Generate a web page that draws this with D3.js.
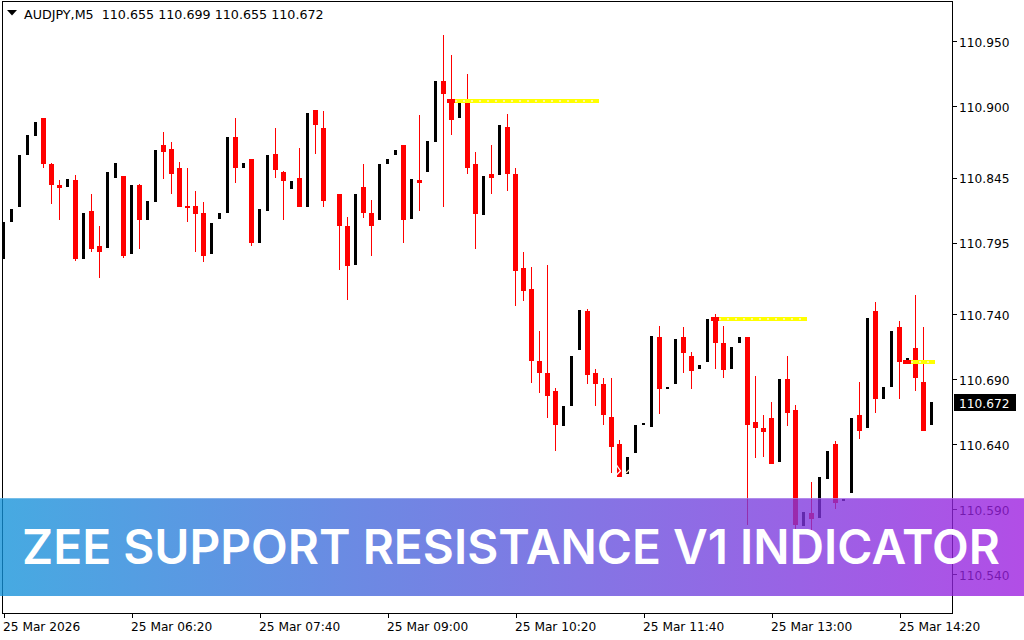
<!DOCTYPE html>
<meta charset="utf-8">
<style>
    html, body { margin: 0; padding: 0; background: #fff; overflow: hidden; }
    svg { display: block; }
    text { font-family: "DejaVu Sans", sans-serif; font-size: 12.2px; fill: #000; }
    .axis path { display: none; }
    .axis line { stroke: #000; shape-rendering: crispEdges; }
    .frame { fill: none; stroke: #000; shape-rendering: crispEdges; }
    .wide { font-size: 12.7px; }
    .banner-title { font-family: Inter, sans-serif; font-size: 48px; font-weight: 600; fill: #fff; }
</style>
<svg width="1024" height="640"></svg>
<script src="https://d3js.org/d3.v7.min.js"></script>
<script>
    var priceTicks = [110.950, 110.900, 110.845, 110.795, 110.740, 110.690, 110.640, 110.590, 110.540];
    var timeTicks = [0, 16, 32, 48, 64, 80, 96, 112];
    var timeLabels = ["25 Mar 2026", "25 Mar 06:20", "25 Mar 07:40", "25 Mar 09:00", "25 Mar 10:20", "25 Mar 11:40", "25 Mar 13:00", "25 Mar 14:20"];

    // one value per 5 minute bar, null where no bar shows
    var open = [110.782, 110.811, 110.822, 110.862, 110.877, 110.891, 110.855, 110.839, 110.838, 110.843,
        110.782, 110.819, 110.792, 110.791, 110.845, 110.846, 110.786, 110.839, 110.812, 110.826,
        110.870, 110.867, 110.852, 110.823, 110.823, 110.818, 110.786, 110.813, 110.818, 110.876,
        110.852, 110.859, 110.795, 110.819, 110.863, 110.849, 110.836, 110.845, 110.822, 110.897,
        110.883, null, 110.832, 110.808, 110.778, 110.838, 110.818, 110.812, 110.855, 110.862,
        110.870, 110.813, 110.843, 110.849, 110.872, 110.919, 110.905, 110.891, 110.905, 110.855,
        110.816, 110.848, 110.847, 110.884, 110.848, 110.775, 110.759, 110.704, 110.695, 110.681,
        110.654, 110.669, 110.712, 110.742, 110.695, 110.686, 110.661, 110.640, 110.617, 110.633,
        110.655, 110.653, 110.722, 110.682, 110.686, 110.722, 110.708, 110.698, 110.703, 110.738,
        110.718, 110.698, 110.718, 110.722, 110.657, 110.652, 110.660, 110.626, 110.690, 110.666,
        110.577, 110.587, 110.583, 110.613, 110.640, 110.596, 110.602, 110.662, 110.652, 110.742,
        110.675, 110.684, 110.730, 110.702, 110.714, 110.688, 110.655];
    var high = [110.811, 110.821, 110.862, 110.878, 110.888, 110.891, 110.856, 110.843, 110.844, 110.847,
        110.818, 110.832, 110.808, 110.849, 110.856, 110.846, 110.839, 110.840, 110.827, 110.866,
        110.880, 110.872, 110.857, 110.852, 110.835, 110.826, 110.810, 110.818, 110.876, 110.891,
        110.856, 110.859, 110.821, 110.862, 110.883, 110.850, 110.842, 110.868, 110.895, 110.897,
        110.896, null, 110.832, 110.815, 110.832, 110.855, 110.828, 110.855, 110.859, 110.866,
        110.870, 110.844, 110.893, 110.873, 110.919, 110.955, 110.939, 110.905, 110.925, 110.865,
        110.846, 110.870, 110.885, 110.894, 110.852, 110.788, 110.776, 110.727, 110.778, 110.683,
        110.669, 110.708, 110.743, 110.744, 110.698, 110.691, 110.691, 110.643, 110.630, 110.655,
        110.656, 110.723, 110.731, 110.684, 110.721, 110.730, 110.711, 110.701, 110.736, 110.740,
        110.731, 110.715, 110.722, 110.722, 110.692, 110.662, 110.672, 110.690, 110.708, 110.670,
        110.588, 110.611, 110.615, 110.635, 110.642, 110.598, 110.660, 110.688, 110.737, 110.749,
        110.684, 110.727, 110.735, 110.706, 110.755, 110.730, 110.672];
    var low = [110.782, 110.811, 110.822, 110.862, 110.877, 110.852, 110.825, 110.812, 110.838, 110.781,
        110.782, 110.788, 110.768, 110.791, 110.845, 110.783, 110.786, 110.790, 110.812, 110.826,
        110.844, 110.832, 110.822, 110.811, 110.788, 110.780, 110.786, 110.813, 110.818, 110.841,
        110.852, 110.792, 110.795, 110.819, 110.845, 110.812, 110.836, 110.822, 110.822, 110.863,
        110.822, null, 110.774, 110.751, 110.778, 110.814, 110.785, 110.812, 110.855, 110.862,
        110.795, 110.813, 110.819, 110.849, 110.872, 110.822, 110.878, 110.891, 110.848, 110.790,
        110.816, 110.832, 110.847, 110.835, 110.746, 110.750, 110.687, 110.679, 110.660, 110.635,
        110.654, 110.669, 110.712, 110.686, 110.669, 110.655, 110.618, 110.615, 110.617, 110.633,
        110.655, 110.653, 110.663, 110.682, 110.686, 110.695, 110.682, 110.698, 110.703, 110.698,
        110.691, 110.698, 110.718, 110.578, 110.629, 110.630, 110.625, 110.626, 110.654, 110.574,
        110.577, 110.574, 110.583, 110.613, 110.590, 110.596, 110.602, 110.644, 110.652, 110.664,
        110.675, 110.684, 110.675, 110.702, 110.681, 110.650, 110.655];
    var close = [110.811, 110.821, 110.862, 110.878, 110.888, 110.855, 110.839, 110.837, 110.844, 110.782,
        110.818, 110.790, 110.788, 110.849, 110.856, 110.785, 110.839, 110.812, 110.827, 110.866,
        110.865, 110.848, 110.822, 110.822, 110.817, 110.785, 110.810, 110.818, 110.876, 110.852,
        110.856, 110.795, 110.821, 110.862, 110.851, 110.842, 110.842, 110.822, 110.895, 110.885,
        110.827, null, 110.808, 110.777, 110.832, 110.818, 110.808, 110.855, 110.859, 110.866,
        110.812, 110.844, 110.841, 110.873, 110.919, 110.909, 110.889, 110.905, 110.852, 110.817,
        110.846, 110.845, 110.885, 110.848, 110.773, 110.758, 110.704, 110.695, 110.677, 110.655,
        110.669, 110.708, 110.743, 110.693, 110.686, 110.662, 110.638, 110.615, 110.630, 110.655,
        110.656, 110.723, 110.682, 110.684, 110.721, 110.710, 110.696, 110.701, 110.736, 110.718,
        110.697, 110.715, 110.722, 110.655, 110.652, 110.649, 110.625, 110.690, 110.664, 110.578,
        110.588, 110.582, 110.615, 110.635, 110.595, 110.598, 110.660, 110.650, 110.737, 110.675,
        110.684, 110.727, 110.703, 110.706, 110.691, 110.650, 110.672];

    // support / resistance levels drawn by the indicator
    var levelPrice = [110.904, 110.736, 110.703];
    var levelStart = [56, 89, 113];
    var levelEnd = [74, 100, 116];

    var svg = d3.select("svg");

    var x = d3.scaleLinear().domain([0, 116]).range([3.5, 931.5]);
    var y = d3.scaleLinear().domain([110.95, 110.54]).range([41, 574]);
    function py(v) { return Math.round(y(v)); }

    var bars = d3.range(open.length).filter(function (i) { return open[i] !== null; });

    var chart = svg.append("g");

    chart.selectAll(".wick")
        .data(bars)
        .enter().append("rect")
        .attr("class", "wick")
        .attr("x", function (i) { return x(i) - 0.5; })
        .attr("y", function (i) { return py(high[i]); })
        .attr("width", 1)
        .attr("height", function (i) { return py(low[i]) - py(high[i]); })
        .attr("fill", function (i) { return close[i] > open[i] ? "#000" : "#f00"; })
        .attr("shape-rendering", "crispEdges");

    chart.selectAll(".body")
        .data(bars)
        .enter().append("rect")
        .attr("class", "body")
        .attr("x", function (i) { return x(i) - (close[i] > open[i] ? 1.5 : 2.5); })
        .attr("y", function (i) { return py(Math.max(open[i], close[i])); })
        .attr("width", function (i) { return close[i] > open[i] ? 3 : 5; })
        .attr("height", function (i) { return Math.max(2, py(Math.min(open[i], close[i])) - py(Math.max(open[i], close[i]))); })
        .attr("fill", function (i) { return close[i] > open[i] ? "#000" : "#f00"; })
        .attr("shape-rendering", "crispEdges");

    // small white smudges sitting on the two bars at the low
    var smudgeX = x(77), smudgeY = py(close[77]);
    chart.append("path")
        .attr("d", "M" + (smudgeX - 3) + "," + (smudgeY - 12) + "l4,6l-4,4")
        .attr("fill", "none").attr("stroke", "#fff").attr("stroke-width", 1.3);
    chart.append("path")
        .attr("d", "M" + (x(78) - 1.5) + "," + (py(open[78]) - 1) + "l3,-3")
        .attr("fill", "none").attr("stroke", "#ffe9c0").attr("stroke-width", 1.2);

    // levels: yellow band with pale dots, red at the bar that started it
    levelPrice.forEach(function (p, k) {
        var x0 = x(levelStart[k]) - 4.5,
            x1 = x(levelEnd[k]) + 3,
            yy = py(p);
        chart.append("rect")
            .attr("x", x0).attr("y", yy - 2)
            .attr("width", x1 - x0).attr("height", 4)
            .attr("fill", "#ff0")
            .attr("shape-rendering", "crispEdges");
        chart.append("line")
            .attr("x1", x0).attr("x2", x1)
            .attr("y1", yy).attr("y2", yy)
            .attr("stroke", "#fff7a0").attr("stroke-width", 2)
            .attr("stroke-dasharray", "2 6");
        chart.append("rect")
            .attr("x", x0).attr("y", yy - 2)
            .attr("width", 8).attr("height", 4)
            .attr("fill", "#f00")
            .attr("shape-rendering", "crispEdges");
    });

    // frame and axes
    svg.append("rect").attr("class", "frame")
        .attr("x", 2.5).attr("y", 1.5)
        .attr("width", 950).attr("height", 612);

    var priceAxis = svg.append("g")
        .attr("class", "axis")
        .attr("transform", "translate(952.5,0)")
        .call(d3.axisRight(y).tickValues(priceTicks).tickSize(4).tickFormat(d3.format(".3f")));
    priceAxis.selectAll("text").attr("x", 6.5).attr("dy", "0.44em");

    var timeAxis = svg.append("g")
        .attr("class", "axis")
        .attr("transform", "translate(0,613.5)")
        .call(d3.axisBottom(x).tickValues(timeTicks).tickSize(4).tickFormat(function (d, i) { return timeLabels[i]; }));
    timeAxis.selectAll("text")
        .attr("text-anchor", "start")
        .attr("x", -1).attr("y", 9);

    // header
    svg.append("path").attr("d", "M7,10H17L12,15.5Z").attr("fill", "#000");
    svg.append("text").attr("class", "wide").attr("x", 24).attr("y", 19)
        .text("AUDJPY,M5  110.655 110.699 110.655 110.672")
        .style("white-space", "pre");

    // current price box
    svg.append("rect")
        .attr("x", 954).attr("y", py(close[close.length - 1]) - 8)
        .attr("width", 62).attr("height", 17)
        .attr("fill", "#000");
    svg.append("text")
        .attr("x", 959).attr("y", py(close[close.length - 1]) + 6)
        .style("fill", "#fff")
        .text(d3.format(".3f")(close[close.length - 1]));

    // banner
    var grad = svg.append("defs").append("linearGradient").attr("id", "bannerGrad");
    grad.append("stop").attr("offset", "0%").attr("stop-color", "#1292d9");
    grad.append("stop").attr("offset", "100%").attr("stop-color", "#9c1cdf");
    svg.append("rect")
        .attr("x", 0).attr("y", 498)
        .attr("width", 1024).attr("height", 98)
        .attr("fill", "url(#bannerGrad)")
        .attr("fill-opacity", 0.78);
    svg.append("rect")
        .attr("x", 0).attr("y", 498)
        .attr("width", 1024).attr("height", 1)
        .attr("fill", "#fff").attr("fill-opacity", 0.25);
    svg.append("text")
        .attr("class", "banner-title")
        .attr("x", 22).attr("y", 564)
        .attr("textLength", 978)
        .attr("lengthAdjust", "spacingAndGlyphs")
        .text("ZEE SUPPORT RESISTANCE V1 INDICATOR");
</script>
